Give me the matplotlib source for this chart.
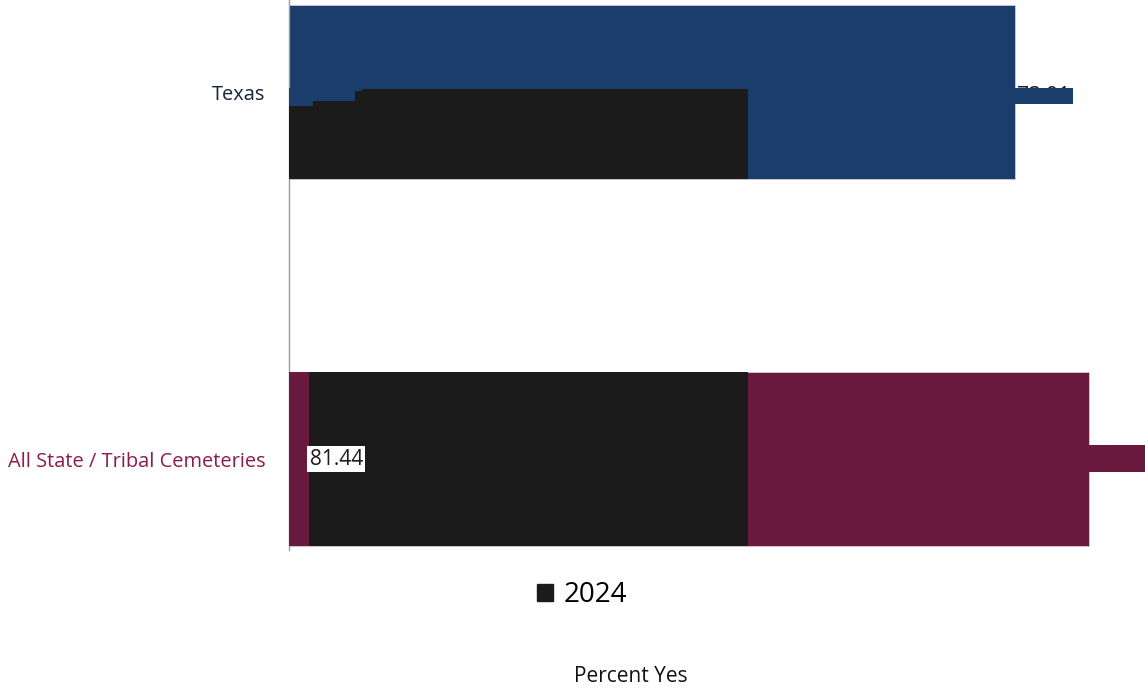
import numpy as np
import matplotlib.pyplot as plt

# categories, bottom to top
categories = ['All State / Tribal Cemeteries', 'Texas']
overall = [81.44, 73.91]
year_2024 = [46.7, 46.7]
labels = ['81.44', '73.91']

bar_colors = ['#6A1A3E', '#1B3D6B']
label_colors = ['#8A1C50', '#15243A']
black = '#1B1B1B'

plt.rcParams['font.family'] = ['Open Sans', 'DejaVu Sans']

fig = plt.figure(figsize=(11.45, 6.92), dpi=100)
ax = fig.add_axes([289 / 1145, 1 - 550 / 692, 1 - 289 / 1145, 550 / 692])

ypos = np.arange(len(categories))
ax.set_xlim(0, 87.14)
ax.set_ylim(-0.2479, 1.2507)

# main bars
ax.barh(ypos, overall, height=0.474, color=bar_colors, edgecolor='#d8c8d8', linewidth=0.6, zorder=2)

# 2024 bars (rendered with offsets in the source picture)
ax.barh(0, year_2024[0], height=0.474, color=black, zorder=3)
ax.barh(0, 2.04, height=0.474, color=bar_colors[0], zorder=4)
ax.barh(0.886, year_2024[1], height=0.245, color=black, zorder=3)

# stepped overlap left on the Texas bar
step_ends = [2.44, 6.72, 7.4]
step_bottoms = [0.962, 0.975, 1.003]
prev = 0
for end, b in zip(step_ends, step_bottoms):
    ax.barh(b, end - prev, left=prev, height=1.012 - b, align='edge', color=bar_colors[1], zorder=4)
    prev = end

# value labels
ax.text(2.1, 0.0, labels[0], ha='left', va='center', fontsize=15, color='#1a1a1a', zorder=6,
        bbox=dict(boxstyle='square,pad=0.12', fc='white', ec='none'))
ax.text(overall[1] + 0.2, 0.988, labels[1], ha='left', va='center', fontsize=15, color='#1a1a1a', zorder=5)

# stubs drawn over the labels
ax.barh(0.989, 5.95, left=overall[1], height=0.0436, color=bar_colors[1], zorder=6)
ax.barh(0.0014, 8.0, left=overall[0], height=0.0736, color=bar_colors[0], zorder=6)

ax.set_yticks(ypos)
ax.set_yticklabels(categories, fontsize=14.4)
for t, c in zip(ax.get_yticklabels(), label_colors):
    t.set_color(c)
ax.tick_params(axis='y', length=0, pad=17)
ax.set_xticks([])

for s in ['top', 'right', 'bottom']:
    ax.spines[s].set_visible(False)
ax.spines['left'].set_color('#9a9a9a')
ax.spines['left'].set_linewidth(1.0)

# legend and axis title
handle = plt.Rectangle((0, 0), 1, 1, color=black)
fig.legend([handle], ['2024'], loc='center', bbox_to_anchor=(582 / 1145, 1 - 595 / 692),
           frameon=False, fontsize=20, handlelength=0.58, handleheight=0.58, handletextpad=0.35)
fig.text(631 / 1145, 1 - 676 / 692, 'Percent Yes', ha='center', va='center', fontsize=15, color='#111111')

fig.savefig('out.png', dpi=100)
